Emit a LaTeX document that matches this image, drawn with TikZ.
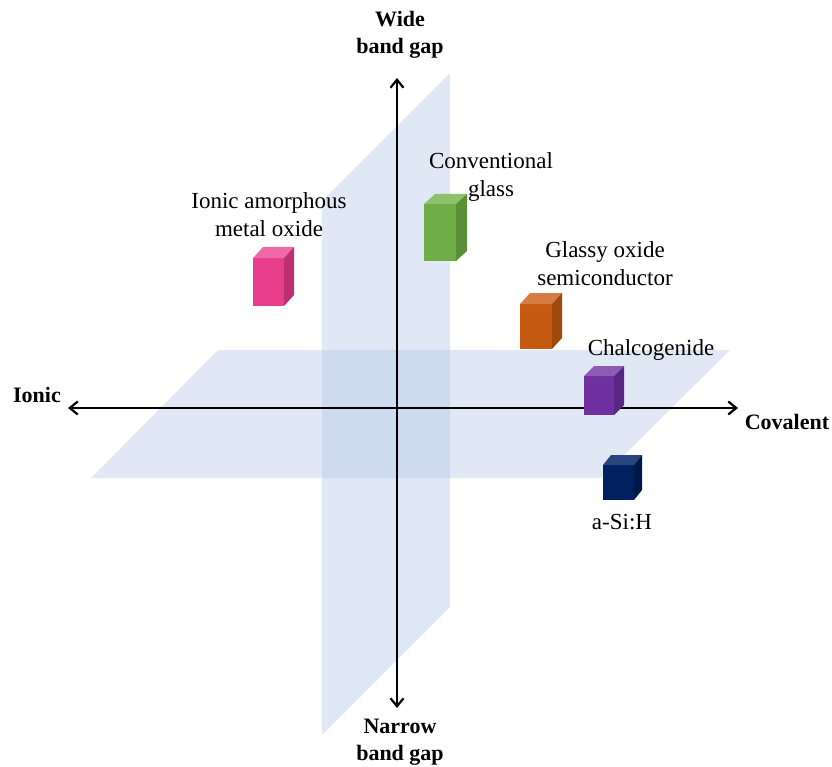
\documentclass[tikz,border=0pt]{standalone}
\usepackage{fontspec}
\setmainfont{Liberation Serif}
\usetikzlibrary{arrows.meta}
\definecolor{planec}{HTML}{B4C7E7}
\definecolor{pinkF}{HTML}{E83E8C}
\definecolor{pinkT}{HTML}{EE6AA6}
\definecolor{pinkS}{HTML}{BE2F70}
\definecolor{greenF}{HTML}{70AD47}
\definecolor{greenT}{HTML}{8DC26A}
\definecolor{greenS}{HTML}{5A8F37}
\definecolor{orangeF}{HTML}{C55A11}
\definecolor{orangeT}{HTML}{D67C44}
\definecolor{orangeS}{HTML}{A0490D}
\definecolor{purpleF}{HTML}{7030A0}
\definecolor{purpleT}{HTML}{8C5BB6}
\definecolor{purpleS}{HTML}{5A2683}
\definecolor{navyF}{HTML}{002060}
\definecolor{navyT}{HTML}{2A4680}
\definecolor{navyS}{HTML}{001849}
\newcommand\drawblock[9]{%
  \fill[#7] (#1,#2) rectangle ++(#3,#4);
  \fill[#8] (#1,#2) -- ++(#5,-#6) -- ++(#3,0) -- ++(-#5,#6) -- cycle;
  \fill[#9] (#1+#3,#2) -- ++(#5,-#6) -- ++(0,#4) -- ++(-#5,#6) -- cycle;
}
\tikzset{
  plane/.style={fill=planec, fill opacity=0.42},
  axis/.style={line width=2.2pt, -{Straight Barb[length=8pt,width=13pt]}},
  lbl/.style={font=\fontsize{23}{28}\selectfont, align=center, inner sep=0pt},
  axlbl/.style={font=\fontsize{22}{27}\selectfont\bfseries, align=center, inner sep=0pt}
}
\begin{document}
\begin{tikzpicture}[x=1pt,y=-1pt]
\useasboundingbox (0,0) rectangle (832,767);
% planes
\fill[plane] (322,735) -- (322,201) -- (450,73) -- (450,607) -- cycle;
\fill[plane] (91,478) -- (218,350) -- (730,350) -- (601,478) -- cycle;
% axes
\coordinate (O) at (397,408);
\coordinate (L) at (68,408);
\coordinate (R) at (738,408);
\coordinate (T) at (397,78);
\coordinate (B) at (397,708);
\draw[axis] (O) -- (L);
\draw[axis] (O) -- (R);
\draw[axis] (O) -- (T);
\draw[axis] (O) -- (B);
% blocks
\drawblock{253}{258}{31}{48}{10}{11}{pinkF}{pinkT}{pinkS}
\drawblock{424}{204}{32}{57}{11}{10}{greenF}{greenT}{greenS}
\drawblock{520}{304}{32}{45}{10}{11}{orangeF}{orangeT}{orangeS}
\drawblock{584}{376}{30}{39}{10}{10}{purpleF}{purpleT}{purpleS}
\drawblock{603}{465}{31}{35}{8}{10}{navyF}{navyT}{navyS}
% labels
\node[axlbl] (wide) at (400,35) {Wide\\band gap};
\node[axlbl] (narrow) at (400,742) {Narrow\\band gap};
\node[axlbl] (ionic) at (37,395) {Ionic};
\node[axlbl] (cov) at (787,422) {Covalent};
\node[lbl] (ionamo) at (269,215) {Ionic amorphous\\metal oxide};
\node[lbl] (convg) at (491,177) {Conventional\\glass};
\node[lbl] (goxs) at (605,264) {Glassy oxide\\semiconductor};
\node[lbl] (chalc) at (651,350) {Chalcogenide};
\node[lbl] (asih) at (622,522) {a-Si:H};
\end{tikzpicture}
\end{document}
